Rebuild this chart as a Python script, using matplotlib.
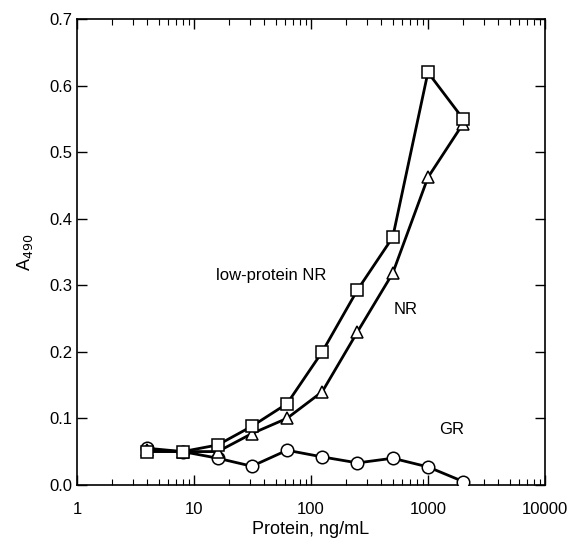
"""A490 vs protein concentration, recreated."""
import matplotlib

matplotlib.use("Agg")
import matplotlib.pyplot as plt
from matplotlib.ticker import LogLocator, NullFormatter, FixedFormatter, FixedLocator

plt.rcParams["font.family"] = ["Liberation Sans", "DejaVu Sans"]

protein = [4, 8, 16, 31.25, 62.5, 125, 250, 500, 1000, 2000]
low_protein_nr = [0.050, 0.050, 0.060, 0.088, 0.122, 0.200, 0.293, 0.372, 0.620, 0.550]
nr = [0.052, 0.050, 0.050, 0.077, 0.100, 0.140, 0.230, 0.318, 0.462, 0.543]
gr = [0.055, 0.050, 0.040, 0.028, 0.052, 0.042, 0.033, 0.040, 0.027, 0.005]

x_ticks = [1, 10, 100, 1000, 10000]
x_labels = ["1", "10", "100", "1000", "10000"]
y_ticks = [0.0, 0.1, 0.2, 0.3, 0.4, 0.5, 0.6, 0.7]

fig = plt.figure(figsize=(5.7, 5.46), dpi=100)
ax = fig.add_axes([0.135, 0.112, 0.821, 0.853])

style = dict(color="black", linewidth=2.0, markersize=9,
             markerfacecolor="white", markeredgecolor="black", markeredgewidth=1.1)
ax.plot(protein, gr, marker="o", **style, zorder=3)
ax.plot(protein, nr, marker="^", **style, zorder=4)
ax.plot(protein, low_protein_nr, marker="s", **style, zorder=5)

ax.set_xscale("log")
ax.set_xlim(1, 10000)
ax.set_ylim(0, 0.7)
ax.xaxis.set_major_locator(FixedLocator(x_ticks))
ax.xaxis.set_major_formatter(FixedFormatter(x_labels))
ax.xaxis.set_minor_locator(LogLocator(base=10, subs=range(2, 10)))
ax.xaxis.set_minor_formatter(NullFormatter())
ax.set_yticks(y_ticks)
ax.set_yticklabels([f"{v:.1f}" for v in y_ticks])

ax.tick_params(which="both", direction="in", top=True, right=True, labelsize=12)
ax.tick_params(which="major", length=7, width=1)
ax.tick_params(which="minor", length=4, width=0.8)
ax.tick_params(axis="x", pad=12)
for s in ax.spines.values():
    s.set_linewidth(1.2)

ax.set_xlabel("Protein, ng/mL", fontsize=13, labelpad=3)
ax.set_ylabel("A$_{490}$", fontsize=13, labelpad=10)

ax.text(15.4, 0.314, "low-protein NR", fontsize=12, ha="left", va="center")
ax.text(640, 0.263, "NR", fontsize=12, ha="center", va="center")
ax.text(1600, 0.083, "GR", fontsize=12, ha="center", va="center")

fig.savefig("out.png", dpi=100)
